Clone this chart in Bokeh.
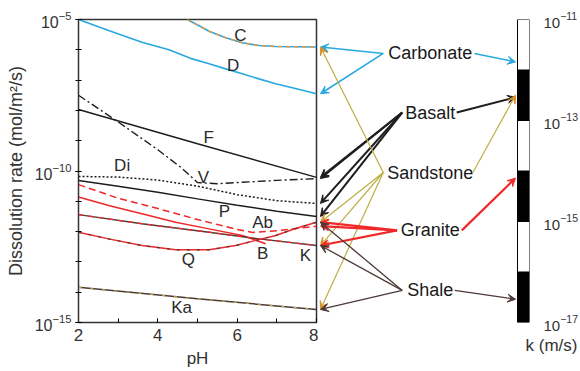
from bokeh.plotting import figure
from bokeh.layouts import row
from bokeh.models import (Range1d, LogScale, LogAxis, FixedTicker, Arrow, VeeHead, Title)
from bokeh.core.properties import value
from bokeh.embed import file_html
from bokeh.resources import INLINE

# ---------------- data: log10 dissolution rate (mol/m2/s) vs pH ----------------
C_ph = [4.74, 5.03, 5.29, 5.71, 6.13, 6.55, 6.97, 8.0]
C_log = [-5.0, -5.2, -5.39, -5.6, -5.77, -5.86, -5.89, -5.91]
D_ph = [2.0, 2.76, 3.6, 4.28, 4.87, 5.29, 5.71, 6.13, 6.55, 6.97, 7.39, 8.0]
D_log = [-5.0, -5.36, -5.75, -6.0, -6.3, -6.46, -6.63, -6.79, -6.96, -7.12, -7.25, -7.45]
F_ph = [2, 5, 8]
F_log = [-7.97, -9.1, -10.21]
V_ph = [2, 3, 4, 4.6, 5.0, 5.5, 6, 7, 8]
V_log = [-7.5, -8.38, -9.3, -9.9, -10.38, -10.42, -10.38, -10.31, -10.25]
Di_ph = [2, 3, 4, 5, 6, 7, 8]
Di_log = [-10.18, -10.2, -10.3, -10.5, -10.78, -10.98, -11.07]
P_ph = [2, 3, 4, 5, 6, 7, 8]
P_log = [-10.31, -10.5, -10.7, -10.92, -11.13, -11.33, -11.5]
Ab_ph = [2, 3, 4, 5, 6, 6.4, 7, 8]
Ab_log = [-10.45, -10.9, -11.24, -11.6, -11.93, -12.03, -11.97, -11.82]
B_ph = [2, 2.76, 3.6, 4.45, 5.29, 6.13, 6.72]
B_log = [-10.86, -11.14, -11.41, -11.69, -11.91, -12.13, -12.4]
K_ph = [2, 3.6, 5.29, 6.55, 8]
K_log = [-11.44, -11.74, -12.02, -12.24, -12.46]
Q_ph = [2, 2.76, 3.6, 4.45, 5.29, 5.96, 6.47, 6.97, 7.47, 8]
Q_log = [-12.02, -12.24, -12.46, -12.6, -12.6, -12.46, -12.29, -12.13, -11.9, -11.69]
Ka_ph = [2, 5, 8]
Ka_log = [-13.84, -14.22, -14.57]

curve_names = ["C", "D", "F", "V", "Di", "P", "Ab", "B", "K", "Q", "Ka"]
curves = {"C": (C_ph, C_log), "D": (D_ph, D_log), "F": (F_ph, F_log), "V": (V_ph, V_log),
          "Di": (Di_ph, Di_log), "P": (P_ph, P_log), "Ab": (Ab_ph, Ab_log), "B": (B_ph, B_log),
          "K": (K_ph, K_log), "Q": (Q_ph, Q_log), "Ka": (Ka_ph, Ka_log)}

# rock types, their permeability (log10 k, m/s) and the minerals they point to
rock_names = ["Carbonate", "Basalt", "Sandstone", "Granite", "Shale"]
rock_k_log = [-11.84, -12.54, -12.5, -14.14, -16.54]
rock_minerals = [["C", "D"], ["F", "V", "Di", "P"], ["C", "Q", "K", "Ka"],
                 ["Q", "Ab", "K"], ["Q", "K", "Ka"]]

# permeability scale blocks (log10 k edges)
k_edges = [-17, -16, -15, -14, -13, -12, -11]
k_ticks = [-17, -15, -13, -11]
rate_ticks = [-15, -10, -5]

# ---------------- styles / layout ----------------
BLUE = "#27A8E0"
RED = "#F02828"
BLACK = "#1E1E1E"
SAND = "#BDAE45"
SAND_HEAD = "#D8912C"
ORANGE = "#E39B3E"
SHALE = "#4E3838"
TXT = "#2a2a2a"
FONT = value("Liberation Sans")

curve_style = {
    "C": [dict(color=BLUE, dash="solid", w=1.6), dict(color=ORANGE, dash="4 4", w=1.6)],
    "D": [dict(color=BLUE, dash="solid", w=1.6)],
    "F": [dict(color=BLACK, dash="solid", w=1.5)],
    "V": [dict(color=BLACK, dash="8 3 2 3", w=1.4)],
    "Di": [dict(color=BLACK, dash="2 2", w=1.5)],
    "P": [dict(color=BLACK, dash="solid", w=1.5)],
    "Ab": [dict(color=RED, dash="7 4", w=1.5)],
    "B": [dict(color=RED, dash="solid", w=1.5)],
    "K": [dict(color=SHALE, dash="solid", w=1.5), dict(color=RED, dash="5 5", w=1.3)],
    "Q": [dict(color=RED, dash="solid", w=1.5), dict(color=SHALE, dash="3 7", w=1.2)],
    "Ka": [dict(color=SHALE, dash="solid", w=1.5), dict(color=SAND, dash="3 9", w=1.2)],
}
label_pos = {"C": (6.08, -5.53), "D": (5.9, -6.52), "F": (5.28, -8.9), "Di": (3.1, -9.82),
             "V": (5.15, -10.2), "P": (5.68, -11.34), "Ab": (6.64, -11.7), "B": (6.64, -12.72),
             "Q": (4.77, -12.92), "K": (7.72, -12.79), "Ka": (4.6, -14.5)}

rock_color = {"Carbonate": BLUE, "Basalt": BLACK, "Sandstone": SAND, "Granite": RED, "Shale": SHALE}
rock_head = {"Carbonate": BLUE, "Basalt": BLACK, "Sandstone": SAND_HEAD, "Granite": RED, "Shale": SHALE}
rock_width = {"Carbonate": 1.6, "Basalt": 2.0, "Sandstone": 1.2, "Granite": 2.2, "Shale": 1.3}
rock_label_x = 10.88
rock_label_y = [-6.12, -8.07, -10.05, -11.96, -13.94]
rock_left_x = [9.69, 10.17, 9.69, 10.04, 10.17]
rock_right_x = [12.0, 11.55, 11.96, 11.68, 11.5]
ARROW_L_X = 8.1
ARROW_R_X = 13.04
BAR_X0, BAR_X1 = 13.09, 13.394

RATE_LO, RATE_HI = -15, -5
K_LO, K_HI = -17, -11


def k_to_rate(lk):
    # vertical position of a permeability value expressed on the rate axis
    return 10 ** (RATE_LO + (lk - K_LO) * (RATE_HI - RATE_LO) / (K_HI - K_LO))


# ================= main plot =================
p = figure(width=318, height=370, output_backend="svg", toolbar_location=None,
           x_range=Range1d(2, 8), y_range=Range1d(10.0 ** RATE_LO, 10.0 ** RATE_HI),
           y_axis_type="log", min_border_left=78, min_border_right=2,
           min_border_top=19, min_border_bottom=48)
p.outline_line_color = "#333333"
p.outline_line_width = 1.5
p.outline_line_alpha = 1
p.grid.visible = False

for name in curve_names:
    xs, ls = curves[name]
    ys = [10 ** v for v in ls]
    for st in curve_style[name]:
        p.line(xs, ys, line_color=st["color"], line_width=st["w"], line_dash=st["dash"])

p.text(x=[label_pos[n][0] for n in label_pos], y=[10 ** label_pos[n][1] for n in label_pos],
       text=list(label_pos.keys()), text_font=FONT, text_font_size="17px",
       text_align="center", text_baseline="middle", text_color=TXT)

yax = p.yaxis[0]
yax.ticker = FixedTicker(ticks=[10.0 ** t for t in rate_ticks],
                         minor_ticks=[10.0 ** t for t in range(RATE_LO, RATE_HI + 1)])
yax.axis_label = "Dissolution rate (mol/m²/s)"
yax.axis_label_text_font = "Liberation Sans"
yax.axis_label_text_font_style = "normal"
yax.axis_label_text_font_size = "18px"
yax.axis_label_text_color = "#333333"
yax.axis_label_standoff = 6
yax.major_label_text_font = "Liberation Sans"
yax.major_label_text_font_size = "16px"
yax.major_label_text_color = "#333333"
yax.major_label_standoff = 4
yax.major_tick_in = 3
yax.major_tick_out = 3
yax.minor_tick_in = 3
yax.minor_tick_out = 3
yax.axis_line_color = "#333333"

xax = p.xaxis[0]
xax.ticker = FixedTicker(ticks=[2, 4, 6, 8], minor_ticks=[2, 3, 4, 5, 6, 7, 8])
xax.axis_label = "pH"
xax.axis_label_text_font = "Liberation Sans"
xax.axis_label_text_font_style = "normal"
xax.axis_label_text_font_size = "17px"
xax.axis_label_text_color = "#333333"
xax.axis_label_standoff = 5
xax.major_label_text_font = "Liberation Sans"
xax.major_label_text_font_size = "17px"
xax.major_label_text_color = "#333333"
xax.major_label_standoff = 6
xax.major_tick_in = 4
xax.major_tick_out = 0
xax.minor_tick_in = 4
xax.minor_tick_out = 0
xax.axis_line_color = "#333333"

# ================= rock types and permeability scale =================
q = figure(width=262, height=370, output_backend="svg", toolbar_location=None,
           x_range=Range1d(8.05, BAR_X1), y_range=Range1d(10.0 ** RATE_LO, 10.0 ** RATE_HI),
           y_axis_type="log", x_axis_location=None, y_axis_location=None,
           min_border_left=0, min_border_right=50, min_border_top=19, min_border_bottom=48)
q.outline_line_color = None
q.grid.visible = False

k_bottom = [k_to_rate(e) for e in k_edges[:-1]]
k_top = [k_to_rate(e) for e in k_edges[1:]]
bar_colors = ["black" if i % 2 == 0 else "white" for i in range(len(k_edges) - 1)]
q.quad(left=BAR_X0, right=BAR_X1, bottom=k_bottom, top=k_top, fill_color=bar_colors,
       line_color="black", line_width=1)

q.text(x=[rock_label_x] * len(rock_names), y=[10 ** v for v in rock_label_y], text=rock_names,
       text_font=FONT, text_font_size="18px", text_align="center", text_baseline="middle",
       text_color="#1a1a1a")

for i, rock in enumerate(rock_names):
    c = rock_color[rock]
    ys0 = 10 ** rock_label_y[i]
    for m in rock_minerals[i]:
        tgt = 10 ** curves[m][1][-1]
        q.add_layout(Arrow(end=VeeHead(size=8, fill_color=rock_head[rock], line_color=rock_head[rock]),
                           x_start=rock_left_x[i], y_start=ys0, x_end=ARROW_L_X, y_end=tgt,
                           line_color=c, line_width=rock_width[rock]))
    q.add_layout(Arrow(end=VeeHead(size=8, fill_color=rock_head[rock], line_color=rock_head[rock]),
                       x_start=rock_right_x[i], y_start=ys0, x_end=ARROW_R_X,
                       y_end=k_to_rate(rock_k_log[i]),
                       line_color=c, line_width=rock_width[rock]))

q.extra_y_ranges = {"k": Range1d(10.0 ** K_LO, 10.0 ** K_HI)}
q.extra_y_scales = {"k": LogScale()}
kax = LogAxis(y_range_name="k", ticker=FixedTicker(ticks=[10.0 ** t for t in k_ticks]))
kax.axis_line_color = None
kax.major_tick_line_color = None
kax.minor_tick_line_color = None
kax.major_label_standoff = 8
kax.major_label_text_font = "Liberation Sans"
kax.major_label_text_font_size = "15px"
kax.major_label_text_color = "#333333"
q.add_layout(kax, "right")

q.add_layout(Title(text="k (m/s)", align="right", offset=-48, standoff=22,
                   text_font="Liberation Sans", text_font_size="17px",
                   text_font_style="normal", text_color="#333333"), "below")

layout = row(p, q)
open("out.html", "w").write(file_html(layout, INLINE))
